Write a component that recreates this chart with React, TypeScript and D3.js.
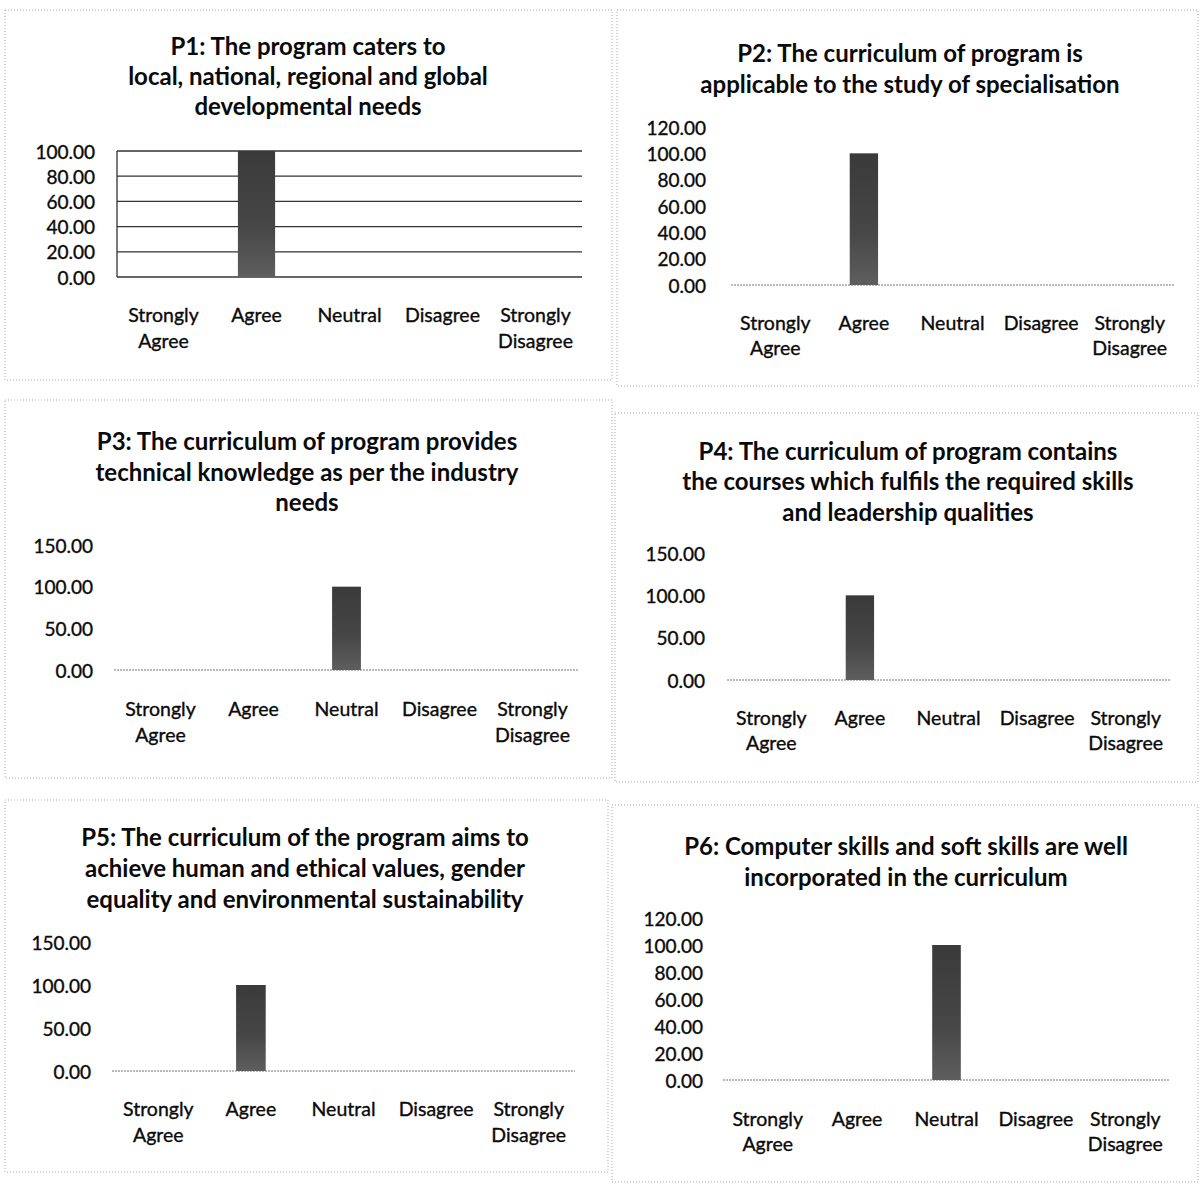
import React from "react";
import * as d3 from "d3";

const categories = ["Strongly Agree", "Agree", "Neutral", "Disagree", "Strongly Disagree"];

const titleP1 = ["P1: The program caters to", "local, national, regional and global", "developmental needs"];
const titleP2 = ["P2: The curriculum of program is", "applicable to the study of specialisation"];
const titleP3 = ["P3: The curriculum of program provides", "technical knowledge as per the industry", "needs"];
const titleP4 = ["P4: The curriculum of program contains", "the courses which fulfils the required skills", "and leadership qualities"];
const titleP5 = ["P5: The curriculum of the program aims to", "achieve human and ethical values, gender", "equality and environmental sustainability"];
const titleP6 = ["P6: Computer skills and soft skills are well", "incorporated in the curriculum"];

const valuesP1 = [0, 100, 0, 0, 0];
const valuesP2 = [0, 100, 0, 0, 0];
const valuesP3 = [0, 0, 100, 0, 0];
const valuesP4 = [0, 100, 0, 0, 0];
const valuesP5 = [0, 100, 0, 0, 0];
const valuesP6 = [0, 0, 100, 0, 0];

const ticksP1 = [0, 20, 40, 60, 80, 100];
const ticksP2 = [0, 20, 40, 60, 80, 100, 120];
const ticksP3 = [0, 50, 100, 150];
const ticksP4 = [0, 50, 100, 150];
const ticksP5 = [0, 50, 100, 150];
const ticksP6 = [0, 20, 40, 60, 80, 100, 120];

type Layout = {
  box: [number, number, number, number];
  titleX: number;
  titleY: number[];
  plotX: [number, number];
  plotY: [number, number];
  tickX: number;
  catY: [number, number];
  barFrac: number;
  grid: boolean;
};

const panels: { title: string[]; values: number[]; ticks: number[]; layout: Layout }[] = [
  {
    title: titleP1, values: valuesP1, ticks: ticksP1,
    layout: { box: [5, 10, 612, 380], titleX: 308, titleY: [45, 75, 105], plotX: [117, 582], plotY: [277, 151], tickX: 95, catY: [314, 340], barFrac: 0.4, grid: true },
  },
  {
    title: titleP2, values: valuesP2, ticks: ticksP2,
    layout: { box: [617, 10, 1198, 386], titleX: 910, titleY: [52, 83], plotX: [731, 1174], plotY: [285, 127], tickX: 706, catY: [322, 347], barFrac: 0.32, grid: false },
  },
  {
    title: titleP3, values: valuesP3, ticks: ticksP3,
    layout: { box: [5, 400, 612, 778], titleX: 307, titleY: [440, 471, 501], plotX: [114, 579], plotY: [670, 545], tickX: 93, catY: [708, 734], barFrac: 0.31, grid: false },
  },
  {
    title: titleP4, values: valuesP4, ticks: ticksP4,
    layout: { box: [615, 413, 1198, 782], titleX: 908, titleY: [450, 480, 511], plotX: [727, 1170], plotY: [680, 553], tickX: 705, catY: [717, 742], barFrac: 0.32, grid: false },
  },
  {
    title: titleP5, values: valuesP5, ticks: ticksP5,
    layout: { box: [5, 800, 608, 1172], titleX: 305, titleY: [836, 867, 898], plotX: [112, 575], plotY: [1071, 942], tickX: 91, catY: [1108, 1134], barFrac: 0.32, grid: false },
  },
  {
    title: titleP6, values: valuesP6, ticks: ticksP6,
    layout: { box: [612, 805, 1198, 1182], titleX: 906, titleY: [845, 876], plotX: [723, 1170], plotY: [1080, 918], tickX: 703, catY: [1118, 1143], barFrac: 0.32, grid: false },
  },
];

const FONT = "Lato, 'Open Sans', sans-serif";

function Panel({ p, idx }: { p: (typeof panels)[number]; idx: number }) {
  const L = p.layout;
  const x = d3.scaleBand<string>().domain(categories).range(L.plotX).paddingInner(0).paddingOuter(0);
  const maxT = d3.max(p.ticks) as number;
  const y = d3.scaleLinear().domain([0, maxT]).range(L.plotY);
  const bw = x.bandwidth() * L.barFrac;
  const [bx0, by0, bx1, by1] = L.box;
  return (
    <g>
      <rect x={bx0} y={by0} width={bx1 - bx0} height={by1 - by0} fill="white" stroke="#a8a8a8" strokeWidth={1} strokeDasharray="1,2" />
      {p.title.map((t, i) => (
        <text key={i} x={L.titleX} y={L.titleY[i]} dominantBaseline="central" textAnchor="middle" fontFamily={FONT} fontWeight="bold" fontSize={24} fill="#0a0a0a">{t}</text>
      ))}
      {L.grid && p.ticks.map((t) => (
        <line key={"g" + t} x1={L.plotX[0]} x2={L.plotX[1]} y1={y(t)} y2={y(t)} stroke="#333" strokeWidth={1.3} />
      ))}
      {L.grid && <line x1={L.plotX[0]} x2={L.plotX[0]} y1={y(0)} y2={y(maxT)} stroke="#333" strokeWidth={1.3} />}
      {!L.grid && <line x1={L.plotX[0]} x2={L.plotX[1]} y1={y(0)} y2={y(0)} stroke="#777" strokeWidth={1.2} strokeDasharray="2,1" />}
      {p.ticks.map((t) => (
        <text key={"t" + t} x={L.tickX} y={y(t)} textAnchor="end" dominantBaseline="central" fontFamily={FONT} fontSize={19} fill="#0a0a0a" stroke="#0a0a0a" strokeWidth={0.35}>{d3.format(".2f")(t)}</text>
      ))}
      {categories.map((c, i) => {
        const v = p.values[i];
        const cx = (x(c) as number) + x.bandwidth() / 2;
        return v > 0 ? (
          <rect key={"b" + c} x={cx - bw / 2} y={y(v)} width={bw} height={y(0) - y(v)} fill={`url(#barGrad${idx})`} />
        ) : null;
      })}
      {categories.map((c) => {
        const cx = (x(c) as number) + x.bandwidth() / 2;
        const words = c.split(" ");
        return (
          <text key={"c" + c} textAnchor="middle" fontFamily={FONT} fontSize={19.5} fill="#0a0a0a" stroke="#0a0a0a" strokeWidth={0.35}>
            {words.map((w, j) => (
              <tspan key={j} x={cx} y={L.catY[j]} dominantBaseline="central">{w}</tspan>
            ))}
          </text>
        );
      })}
    </g>
  );
}

export default function App() {
  return (
    <svg width={1200} height={1185} style={{ position: "absolute", left: 0, top: 0, background: "white" }}>
      <defs>
        {panels.map((_, i) => (
          <linearGradient key={i} id={`barGrad${i}`} x1="0" y1="0" x2="0" y2="1">
            <stop offset="0" stopColor="#3a3a3a" />
            <stop offset="0.6" stopColor="#474747" />
            <stop offset="1" stopColor="#5e5e5e" />
          </linearGradient>
        ))}
      </defs>
      <rect x={0} y={0} width={1200} height={1185} fill="white" />
      {panels.map((p, i) => (
        <Panel key={i} p={p} idx={i} />
      ))}
    </svg>
  );
}
